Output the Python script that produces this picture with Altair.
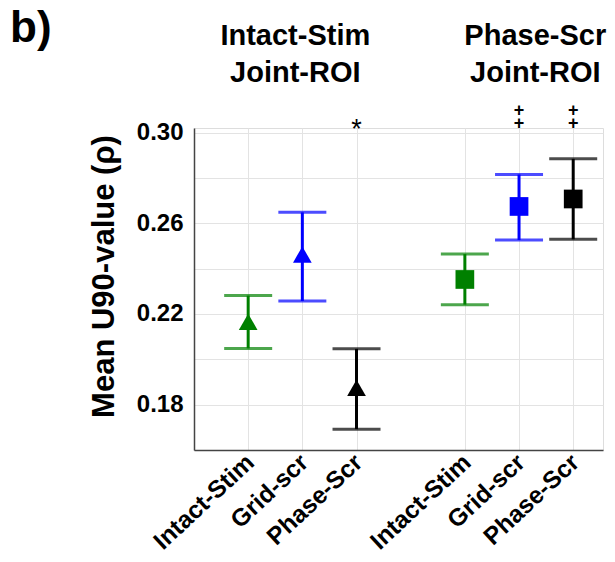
import altair as alt
import pandas as pd
import json

# ---- data ----
conditions = ["Intact-Stim", "Grid-scr", "Phase-Scr", "Intact-Stim", "Grid-scr", "Phase-Scr"]
positions = [1, 2, 3, 5, 6, 7]
means = [0.2165, 0.2462, 0.1874, 0.2352, 0.2674, 0.2707]
upper = [0.2281, 0.2648, 0.2046, 0.2464, 0.2815, 0.2884]
lower = [0.2048, 0.2257, 0.1692, 0.2241, 0.2526, 0.2529]
cond_key = ["intact", "grid", "phase", "intact", "grid", "phase"]
shapes = ["triangle-up"] * 3 + ["square"] * 3

group_titles = ["Intact-Stim\nJoint-ROI", "Phase-Scr\nJoint-ROI"]
group_title_x = [1.87, 6.3]

star_pos = [3]
star_text = ["*"]
dagger_pos = [6, 7]
dagger_text = ["+", "+"]

y_ticks = [0.18, 0.20, 0.22, 0.24, 0.26, 0.28, 0.30]
y_labels = [0.18, 0.22, 0.26, 0.30]

FONT = "Liberation Sans"

df = pd.DataFrame({
    "pos": positions, "cond": conditions, "mean": means,
    "hi": upper, "lo": lower, "key": cond_key, "shape": shapes,
})

color_scale = alt.Scale(domain=["intact", "grid", "phase"],
                        range=["#008000", "#0000ff", "#000000"])
shape_scale = alt.Scale(domain=["triangle-up", "square"],
                        range=["triangle-up", "square"])

label_map = json.dumps({str(p): c for p, c in zip(positions, conditions)})
y_label_test = " || ".join(f"abs(datum.value - {v}) < 0.001" for v in y_labels)

x_enc = alt.X("pos:Q", scale=alt.Scale(domain=[0, 7.55], nice=False, zero=False),
              axis=alt.Axis(values=positions, labelExpr=f"{label_map}[''+datum.value]",
                            labelAngle=-43, labelFontSize=24.5, labelFont=FONT,
                            labelFontWeight="bold", labelColor="black",
                            labelPadding=0, labelOffset=-6, ticks=False, grid=True,
                            gridColor="#e3e3e3", gridWidth=1,
                            domainColor="#444444", domainWidth=1.5, title=None,
                            labelOverlap=False, labelBound=False))
y_scale = alt.Scale(domain=[0.16, 0.302], nice=False, zero=False)
y_enc = alt.Y("mean:Q", scale=y_scale,
              axis=alt.Axis(values=y_ticks, labelExpr=f"({y_label_test}) ? format(datum.value, '.2f') : ''",
                            labelFontSize=24, labelFont=FONT, labelFontWeight="bold",
                            labelColor="black", labelPadding=11, ticks=False,
                            grid=True, gridColor="#e3e3e3", gridWidth=1,
                            domainColor="#444444", domainWidth=1.5,
                            title="Mean U90-value (ρ)", titleFont=FONT,
                            titleFontSize=31, titleFontWeight="bold", titleColor="black",
                            titleX=-90, titleY=148, titleAlign="center",
                            titleBaseline="middle", titleAngle=-90))

base = alt.Chart(df)

stems = base.mark_rule(strokeWidth=3).encode(
    x="pos:Q", y=alt.Y("lo:Q", scale=y_scale), y2="hi:Q",
    color=alt.Color("key:N", scale=color_scale, legend=None))
caps_lo = base.mark_tick(orient="horizontal", size=48, thickness=3).encode(
    x="pos:Q", y=alt.Y("lo:Q", scale=y_scale),
    color=alt.Color("key:N", scale=color_scale, legend=None))
caps_hi = base.mark_tick(orient="horizontal", size=48, thickness=3).encode(
    x="pos:Q", y=alt.Y("hi:Q", scale=y_scale),
    color=alt.Color("key:N", scale=color_scale, legend=None))
points = base.mark_point(filled=True, size=350, opacity=1).encode(
    x=x_enc, y=y_enc,
    color=alt.Color("key:N", scale=color_scale, legend=None),
    shape=alt.Shape("shape:N", scale=shape_scale, legend=None))

stars = alt.Chart(pd.DataFrame({"pos": star_pos, "t": star_text})).mark_text(
    font=FONT, fontSize=27, color="black", baseline="middle", align="center"
).encode(x="pos:Q", y=alt.value(2), text="t:N")

dagger_df = pd.DataFrame({"pos": dagger_pos, "t": dagger_text})
daggers_top = alt.Chart(dagger_df).mark_text(
    font=FONT, fontSize=18, fontWeight="bold", color="black", baseline="middle", align="center"
).encode(x="pos:Q", y=alt.value(-17), text="t:N")
daggers_bot = alt.Chart(dagger_df).mark_text(
    font=FONT, fontSize=18, fontWeight="bold", color="black", baseline="middle", align="center"
).encode(x="pos:Q", y=alt.value(-4), text="t:N")

titles = alt.Chart(pd.DataFrame({"pos": group_title_x, "t": group_titles})).mark_text(
    font=FONT, fontSize=29, fontWeight="bold", color="black", baseline="alphabetic",
    align="center", lineBreak="\n", lineHeight=37
).encode(x="pos:Q", y=alt.value(-83), text="t:N")

panel = alt.Chart(pd.DataFrame({"t": ["b)"]})).mark_text(
    font=FONT, fontSize=44, fontWeight="bold", color="black", baseline="alphabetic",
    align="left"
).encode(x=alt.value(-184), y=alt.value(-86), text="t:N")

chart = alt.layer(stems, caps_lo, caps_hi, points, stars, daggers_top, daggers_bot,
                  titles, panel).properties(
    width=409, height=322,
    autosize=alt.AutoSizeParams(type="none"),
    padding={"left": 186, "top": 120, "right": 4, "bottom": 104},
).configure_view(stroke=None).configure(background="white")

chart.save("out.html", embed_options={"renderer": "svg", "actions": False})
